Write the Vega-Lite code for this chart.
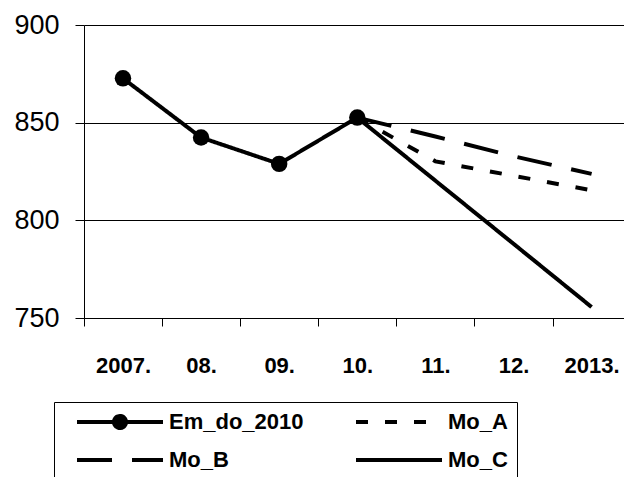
{
  "$schema": "https://vega.github.io/schema/vega-lite/v6.json",
  "width": 540,
  "height": 293,
  "autosize": {"type": "none"},
  "padding": {"left": 84, "top": 25, "right": 0, "bottom": 159},
  "data": {
    "values": [
      {"series": "Em_do_2010", "year": "2007.", "value": 872.7},
      {"series": "Em_do_2010", "year": "08.", "value": 842.4},
      {"series": "Em_do_2010", "year": "09.", "value": 828.9},
      {"series": "Em_do_2010", "year": "10.", "value": 852.6},
      {"series": "Mo_A", "year": "10.", "value": 852.6},
      {"series": "Mo_A", "year": "11.", "value": 830.2},
      {"series": "Mo_A", "year": "12.", "value": 822.8},
      {"series": "Mo_A", "year": "2013.", "value": 815.4},
      {"series": "Mo_B", "year": "10.", "value": 852.6},
      {"series": "Mo_B", "year": "11.", "value": 842.9},
      {"series": "Mo_B", "year": "12.", "value": 832.8},
      {"series": "Mo_B", "year": "2013.", "value": 823.8},
      {"series": "Mo_C", "year": "10.", "value": 852.6},
      {"series": "Mo_C", "year": "11.", "value": 820.3},
      {"series": "Mo_C", "year": "12.", "value": 788.0},
      {"series": "Mo_C", "year": "2013.", "value": 755.6}
    ]
  },
  "config": {
    "view": {"stroke": null},
    "font": "Liberation Sans"
  },
  "encoding": {
    "x": {
      "field": "year",
      "type": "ordinal",
      "scale": {"type": "point", "domain": ["2007.", "08.", "09.", "10.", "11.", "12.", "2013."], "padding": 0.457, "align": 0.546},
      "axis": {
        "title": null,
        "labelAngle": 0,
        "domainColor": "black",
        "domainWidth": 1,
        "tickColor": "black",
        "tickWidth": 1,
        "tickSize": 8,
        "tickOffset": -39,
        "labelOffset": 39,
        "labelFont": "Liberation Sans",
        "labelFontSize": 22,
        "labelFontWeight": "bold",
        "labelColor": "black",
        "labelPadding": 29,
        "grid": false
      }
    },
    "y": {
      "field": "value",
      "type": "quantitative",
      "scale": {"domain": [750, 900], "nice": false, "zero": false},
      "axis": {
        "title": null,
        "values": [750, 800, 850, 900],
        "grid": true,
        "gridColor": "black",
        "gridWidth": 1,
        "gridOpacity": 1,
        "domainColor": "black",
        "domainWidth": 1,
        "tickColor": "black",
        "tickSize": 9,
        "labelFont": "Liberation Sans",
        "labelFontSize": 27,
        "labelColor": "black",
        "labelPadding": 16
      }
    }
  },
  "layer": [
    {
      "mark": {"type": "line", "color": "black", "strokeWidth": 4},
      "encoding": {
        "strokeDash": {
          "field": "series",
          "type": "nominal",
          "scale": {
            "domain": ["Em_do_2010", "Mo_B", "Mo_A", "Mo_C"],
            "range": [[1, 0], [35, 20], [12, 17], [1, 0]]
          },
          "legend": {
            "title": null,
            "orient": "none",
            "legendX": -30,
            "legendY": 377,
            "columns": 2,
            "symbolType": "stroke",
            "symbolSize": 7396,
            "symbolStrokeWidth": 4,
            "symbolStrokeColor": "black",
            "symbolOffset": 12,
            "labelFont": "Liberation Sans",
            "labelFontSize": 22,
            "labelFontWeight": "bold",
            "labelColor": "black",
            "labelOffset": 4,
            "labelLimit": 400,
            "labelExpr": "datum.label == 'Mo_A' || datum.label == 'Mo_C' ? datum.label + '                ' : datum.label",
            "padding": 9,
            "rowPadding": 16,
            "columnPadding": 38,
            "clipHeight": 22,
            "strokeColor": "black",
            "fillColor": "white",
            "encode": {
              "symbols": {
                "update": {
                  "shape": {"signal": "datum.value === 'Em_do_2010' ? 'M-1,0L1,0M0.14,0A0.14,0.14,0,1,1,-0.14,0A0.14,0.14,0,1,1,0.14,0Z' : 'stroke'"},
                  "fill": {"signal": "datum.value === 'Em_do_2010' ? 'black' : 'transparent'"},
                  "stroke": {"value": "black"},
                  "strokeWidth": {"value": 4}
                }
              }
            }
          }
        }
      }
    },
    {
      "transform": [{"filter": "datum.series === 'Em_do_2010'"}],
      "mark": {"type": "point", "filled": true, "color": "black", "size": 270, "opacity": 1},
      "encoding": {}
    }
  ]
}
